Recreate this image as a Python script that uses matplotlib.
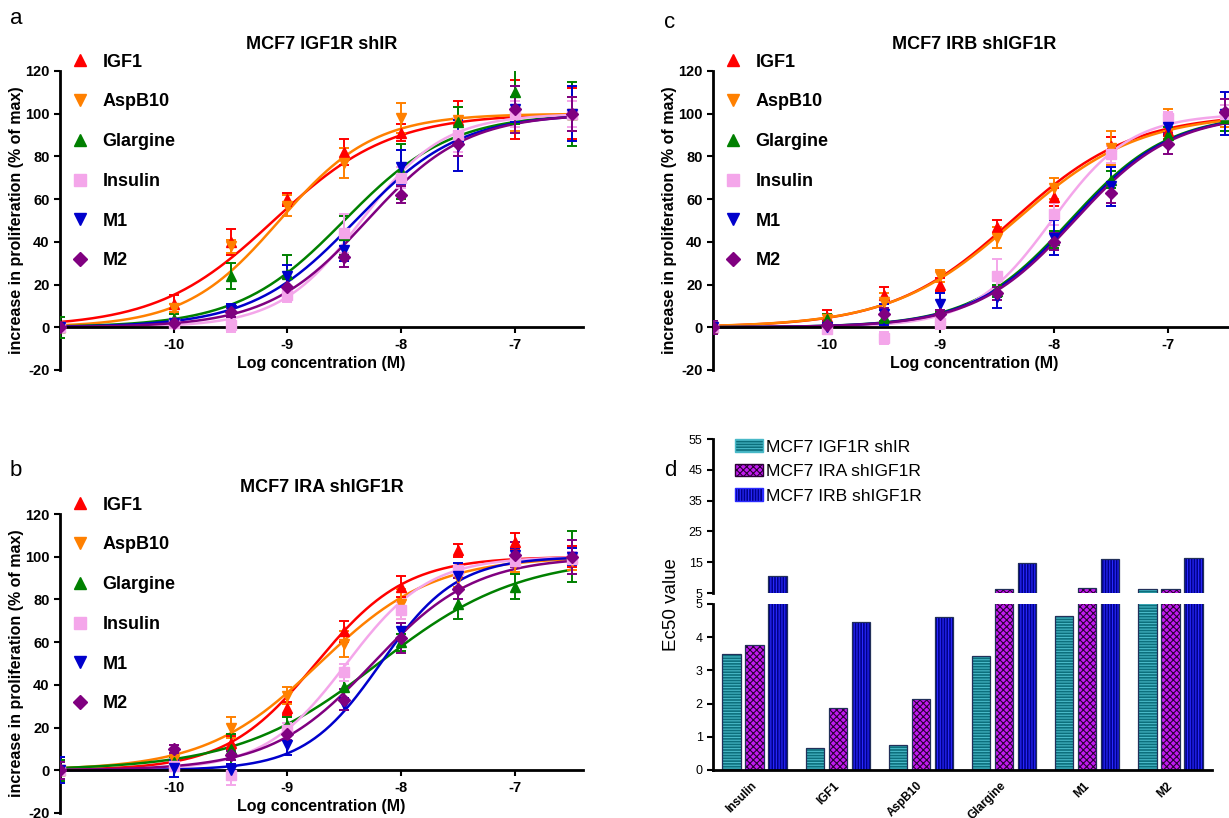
import numpy as np
import matplotlib.pyplot as plt
from matplotlib.lines import Line2D
from matplotlib.patches import Patch

plt.rcParams['font.family'] = ['Liberation Sans', 'DejaVu Sans']
plt.rcParams['hatch.linewidth'] = 0.8
plt.rcParams['axes.unicode_minus'] = False

# doses (log M) used in every proliferation panel
log_conc = [-11, -10, -9.5, -9, -8.5, -8, -7.5, -7, -6.5]
ligands = ['IGF1', 'AspB10', 'Glargine', 'Insulin', 'M1', 'M2']

# panel a: MCF7 IGF1R shIR  (rows follow `ligands`)
a_mean = [[0, 11, 40, 60, 82, 91, 97, 102, 100],
          [0, 9, 38, 57, 77, 98, 97, 100, 100],
          [0, 4, 24, 25, 43, 73, 96, 110, 100],
          [0, 2, 1, 15, 44, 70, 90, 100, 100],
          [0, 2, 8, 24, 36, 75, 85, 102, 100],
          [0, 2, 7, 19, 33, 62, 86, 102, 100]]
a_err = [[2, 4, 6, 3, 6, 4, 9, 14, 12],
         [2, 2, 3, 5, 7, 7, 6, 8, 8],
         [5, 2, 6, 9, 9, 13, 7, 15, 15],
         [2, 2, 3, 3, 9, 5, 8, 6, 6],
         [2, 2, 3, 5, 5, 8, 12, 6, 13],
         [2, 2, 2, 4, 5, 4, 6, 11, 8]]
a_logec50 = [-9.12, -9.07, -8.5, -8.35, -8.4, -8.3]
a_hill = [0.85, 1.05, 0.93, 1.2, 0.95, 1.0]

# panel b: MCF7 IRA shIGF1R
b_mean = [[0, 3, 13, 29, 65, 86, 103, 107, 100],
          [0, 5, 20, 35, 59, 78, 90, 97, 98],
          [0, 4, 10, 21, 39, 60, 78, 86, 100],
          [0, 2, -2, 19, 46, 75, 94, 98, 99],
          [0, 1, 0, 12, 31, 65, 91, 101, 100],
          [0, 10, 7, 17, 33, 62, 85, 101, 100]]
b_err = [[4, 2, 3, 3, 5, 5, 3, 4, 5],
         [4, 2, 5, 4, 6, 7, 4, 4, 4],
         [5, 2, 7, 4, 5, 4, 7, 6, 12],
         [4, 2, 5, 3, 4, 4, 3, 3, 3],
         [6, 4, 3, 5, 3, 4, 6, 3, 4],
         [4, 2, 2, 3, 5, 7, 5, 6, 8]]
b_logec50 = [-8.75, -8.72, -8.2, -8.48, -8.18, -8.25]
b_hill = [1.1, 0.87, 0.7, 1.2, 1.3, 0.97]

# panel c: MCF7 IRB shIGF1R
c_mean = [[0, 5, 15, 20, 47, 61, 85, 92, 99],
          [0, 4, 12, 24, 42, 65, 84, 97, 99],
          [0, 4, 5, 5, 17, 41, 69, 90, 98],
          [0, -1, -5, 2, 24, 53, 81, 98, 100],
          [0, 0, 6, 11, 14, 42, 66, 94, 100],
          [0, 1, 6, 6, 16, 40, 63, 86, 101]]
c_err = [[3, 3, 4, 3, 3, 4, 4, 4, 5],
         [3, 2, 4, 3, 5, 5, 8, 5, 5],
         [3, 2, 3, 2, 3, 4, 4, 4, 6],
         [3, 2, 3, 3, 8, 5, 4, 3, 4],
         [3, 2, 5, 5, 5, 8, 9, 4, 10],
         [3, 2, 3, 2, 3, 4, 5, 5, 6]]
c_logec50 = [-8.37, -8.34, -7.86, -8.02, -7.84, -7.82]
c_hill = [0.82, 0.8, 1.0, 1.25, 1.0, 1.0]

# panel d: EC50 values
d_groups = ['Insulin', 'IGF1', 'AspB10', 'Glargine', 'M1', 'M2']
ec50_igf1r_shir = [3.5, 0.67, 0.75, 3.43, 4.64, 6.3]
ec50_ira_shigf1r = [3.77, 1.87, 2.15, 6.3, 6.6, 6.3]
ec50_irb_shigf1r = [10.4, 4.45, 4.6, 14.7, 16.0, 16.3]

colors = ['#FF0000', '#FF8000', '#008000', '#F4A6EA', '#0000CC', '#800080']
markers = ['^', 'v', '^', 's', 'v', 'D']
msizes = [7, 7, 7, 6.5, 7, 6]

fig = plt.figure(figsize=(12.29, 8.18), dpi=100)
W, H = 1229.0, 818.0


def px_axes(x0, y0, x1, y1):
    return fig.add_axes([x0 / W, 1 - y1 / H, (x1 - x0) / W, (y1 - y0) / H])


def dose_panel(ax, title, means, errs, logec50, hill):
    xfit = np.linspace(-11, -6.5, 300)
    for i in range(len(ligands)):
        yfit = 100.0 / (1 + 10 ** ((logec50[i] - xfit) * hill[i]))
        ax.plot(xfit, yfit, color=colors[i], lw=1.8, zorder=2)
        ax.errorbar(log_conc, means[i], yerr=errs[i], fmt=markers[i], color=colors[i],
                    ms=msizes[i], capsize=3.5, elinewidth=1.4, capthick=1.4, zorder=3)
    ax.set_xlim(-11, -6.4)
    ax.set_ylim(-20, 120)
    for s in ['top', 'right']:
        ax.spines[s].set_visible(False)
    ax.spines['bottom'].set_position(('data', 0))
    ax.spines['left'].set_linewidth(2)
    ax.spines['bottom'].set_linewidth(2)
    ax.set_xticks([-10, -9, -8, -7])
    ax.set_yticks(range(-20, 121, 20))
    ax.tick_params(width=1.5, length=4, labelsize=10.5)
    for lab in ax.get_xticklabels() + ax.get_yticklabels():
        lab.set_fontweight('bold')
    ax.set_xlabel('Log concentration (M)', fontsize=11.5, fontweight='bold', labelpad=3)
    ax.set_ylabel('increase in proliferation (% of max)', fontsize=11.5, fontweight='bold', labelpad=1)
    ax.set_title(title, fontsize=13, fontweight='bold', pad=16)
    handles = [Line2D([], [], ls='none', marker=markers[i], color=colors[i], ms=msizes[i] + 1.5)
               for i in range(len(ligands))]
    ax.legend(handles, ligands, loc='upper left', bbox_to_anchor=(0.019, 1.058), frameon=False,
              prop={'size': 13, 'weight': 'bold'}, labelspacing=1.26, handlelength=1.1,
              handletextpad=0.7, borderpad=0, borderaxespad=0)


ax_a = px_axes(60, 71, 583, 370)
dose_panel(ax_a, 'MCF7 IGF1R shIR', a_mean, a_err, a_logec50, a_hill)
ax_b = px_axes(60, 514, 583, 813)
dose_panel(ax_b, 'MCF7 IRA shIGF1R', b_mean, b_err, b_logec50, b_hill)
ax_c = px_axes(713, 71, 1236, 370)
dose_panel(ax_c, 'MCF7 IRB shIGF1R', c_mean, c_err, c_logec50, c_hill)

# panel d, broken y axis
ax_top = px_axes(713, 439, 1212, 593)
ax_bot = px_axes(713, 604, 1212, 770)
series = [(ec50_igf1r_shir, '#0C6F7C', '#49B9C8', '------', 'MCF7 IGF1R shIR'),
          (ec50_ira_shigf1r, '#C21AF0', '#2A0035', 'xxxxx', 'MCF7 IRA shIGF1R'),
          (ec50_irb_shigf1r, '#00008B', '#2A2AFF', '||||||', 'MCF7 IRB shIGF1R')]
xs = np.arange(len(d_groups))
for k, (vals, face, hcol, hatch, label) in enumerate(series):
    xpos = xs + (k - 1) * 0.277
    for ax in (ax_top, ax_bot):
        ax.bar(xpos, vals, width=0.22, color=face, edgecolor=hcol, hatch=hatch, linewidth=0)
        ax.bar(xpos, vals, width=0.22, fill=False, edgecolor='#22305A', linewidth=0.9)

for ax in (ax_top, ax_bot):
    ax.set_xlim(-0.5, 5.5)
    ax.spines['top'].set_visible(False)
    ax.spines['right'].set_visible(False)
    ax.spines['left'].set_linewidth(2)
    ax.tick_params(axis='y', width=1.5, length=4, labelsize=9)

ax_top.set_ylim(5, 55)
ax_top.set_yticks([5, 15, 25, 35, 45, 55])
ax_top.spines['bottom'].set_visible(False)
ax_top.set_xticks([])
ax_bot.set_ylim(0, 5)
ax_bot.set_yticks(range(0, 6))
ax_bot.spines['bottom'].set_linewidth(2)
ax_bot.set_xticks(xs - 0.05)
ax_bot.set_xticklabels(d_groups, rotation=45, ha='right', rotation_mode='anchor', fontsize=8.5,
                       fontweight='bold')
ax_bot.tick_params(axis='x', length=0, pad=7)

leg_handles = [Patch(facecolor=face, edgecolor=hcol, hatch=hatch) for _, face, hcol, hatch, _ in series]
ax_top.legend(leg_handles, [s[4] for s in series], loc='upper left', bbox_to_anchor=(0.044, 1.0),
              frameon=False, fontsize=12.6, labelspacing=0.52, handlelength=1.6, handleheight=0.75,
              handletextpad=0.15, borderpad=0, borderaxespad=0)

fig.text(672 / W, 1 - 605 / H, 'Ec50 value', rotation=90, fontsize=13.5, ha='center', va='center')

# panel letters
fig.text(10 / W, 1 - 18 / H, 'a', fontsize=16, va='center')
fig.text(10 / W, 1 - 470 / H, 'b', fontsize=16, va='center')
fig.text(664 / W, 1 - 22 / H, 'c', fontsize=16, va='center')
fig.text(664 / W, 1 - 470 / H, 'd', fontsize=16, va='center')

fig.savefig('out.png', dpi=100)
